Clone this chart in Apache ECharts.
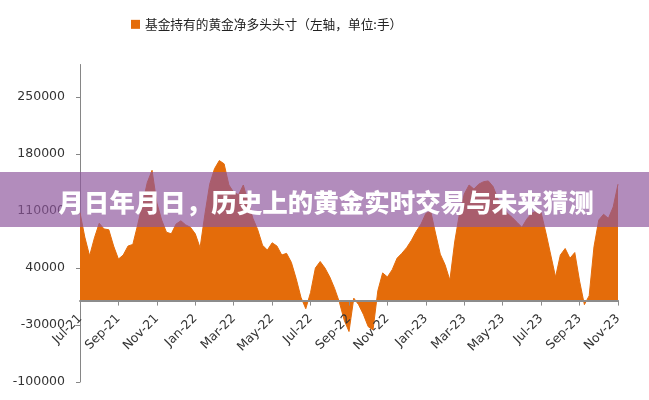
<!DOCTYPE html>
<html>
<head>
<meta charset="utf-8">
<script src="https://cdn.jsdelivr.net/npm/echarts@6/dist/echarts.min.js"></script>
<style>
html,body{margin:0;padding:0;background:#fff;}
#chart{width:649px;height:400px;}
</style>
</head>
<body>
<div id="chart"></div>
<script>
// Tick labels shown every 8 weeks (2 months)
var tickLabels = ['Jul-21','Sep-21','Nov-21','Jan-22','Mar-22','May-22','Jul-22','Sep-22','Nov-22','Jan-23','Mar-23','May-23','Jul-23','Sep-23','Nov-23'];

// Net long position held by funds (contracts), weekly
var netLong = [
  108000, 78000, 55000, 77000, 95000, 88000, 87000, 67000, 51000, 56000,
  67000, 69000, 93000, 118000, 145000, 160000, 120000, 99000, 84000, 82000,
  94000, 98000, 93000, 90000, 82000, 65000, 106000, 143000, 162000, 172000,
  168000, 142000, 133000, 130000, 142000, 121000, 101000, 87000, 68000, 62000,
  71000, 67000, 56000, 58000, 47000, 27000, 4000, -10000, 10000, 40000,
  48000, 40000, 29000, 15000, -2000, -24000, -38000, 3000, -5000, -17000,
  -32000, -36000, 12000, 34000, 29000, 38000, 52000, 58000, 65000, 74000,
  85000, 94000, 107000, 110000, 83000, 57000, 44000, 25000, 72000, 107000,
  131000, 142000, 137000, 143000, 146000, 147000, 140000, 125000, 115000, 107000,
  102000, 96000, 90000, 100000, 107000, 110000, 108000, 83000, 56000, 29000,
  56000, 64000, 52000, 59000, 24000, -5000, 6000, 66000, 99000, 106000,
  101000, 115000, 143000
];

// Weekly categories
var categories = netLong.map(function (v, i) { return 'W' + i; });

var seriesName = '基金持有的黄金净多头头寸（左轴，单位:手）';
var bannerText = '月日年月日，历史上的黄金实时交易与未来猜测';

var yMin = -100000, yMax = 290000;
var gridTop = 64.5, gridBottom = 18, H = 400;
var zeroOffset = -(H - gridTop - gridBottom) * (0 - yMin) / (yMax - yMin);

var chart = echarts.init(document.getElementById('chart'), null, {renderer: 'canvas'});
var option = {
  animation: false,
  backgroundColor: '#ffffff',
  legend: {
    data: [seriesName],
    left: 126,
    top: 13,
    itemWidth: 9,
    itemHeight: 9,
    itemGap: 5,
    icon: 'rect',
    textStyle: {fontFamily: '"Noto Sans CJK SC"', fontSize: 12.7, color: '#222'}
  },
  grid: {left: 80, right: 31, top: gridTop, bottom: gridBottom, containLabel: false, outerBoundsMode: 'none'},
  xAxis: {
    type: 'category',
    data: categories,
    boundaryGap: false,
    position: 'bottom',
    offset: zeroOffset,
    z: 5,
    axisLine: {onZero: false, lineStyle: {color: '#8c8c8c', width: 2}},
    axisTick: {show: true, interval: 7, length: 5, lineStyle: {color: '#8c8c8c', width: 1}},
    axisLabel: {
      interval: 7,
      rotate: 45,
      margin: 16,
      fontFamily: '"DejaVu Sans"',
      fontSize: 12.5,
      color: '#333',
      formatter: function (v, idx) { return tickLabels[Math.round(idx / 8)] || ''; }
    },
    splitLine: {show: false}
  },
  yAxis: {
    type: 'value',
    min: yMin,
    max: yMax,
    interval: 70000,
    axisLine: {show: true, lineStyle: {color: '#868686', width: 1}},
    axisTick: {show: true, length: 4, lineStyle: {color: '#868686'}},
    axisLabel: {showMaxLabel: false, margin: 15, fontFamily: '"DejaVu Sans"', fontSize: 12.5, color: '#333',
      formatter: function (v) { return String(v); }},
    splitLine: {show: false}
  },
  series: [{
    name: seriesName,
    type: 'line',
    data: netLong,
    symbol: 'none',
    itemStyle: {color: '#E46C0A'},
    lineStyle: {color: '#E46C0A', width: 1},
    areaStyle: {color: '#E46C0A', opacity: 1}
  }],
  graphic: [
    {type: 'rect', z: 100, shape: {x: 0, y: 172, width: 649, height: 55}, style: {fill: 'rgba(142,86,156,0.68)'}},
    {type: 'text', z: 101, x: 326, y: 202, style: {
      text: bannerText, fill: '#ffffff', align: 'center', verticalAlign: 'middle',
      textAlign: 'center', textVerticalAlign: 'middle',
      font: '900 25.5px "Noto Sans CJK SC"',
      shadowColor: 'rgba(0,0,0,0.25)', shadowBlur: 2, shadowOffsetX: 1, shadowOffsetY: 1
    }}
  ]
};
chart.setOption(option);
</script>
</body>
</html>
